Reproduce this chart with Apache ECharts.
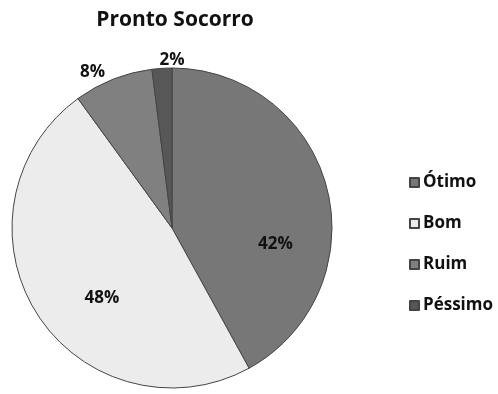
<!DOCTYPE html>
<html>
<head>
<meta charset="utf-8">
<script src="https://cdn.jsdelivr.net/npm/echarts@6/dist/echarts.min.js"></script>
<style>
  html, body { margin: 0; padding: 0; background: #fff; }
  #main { width: 498px; height: 394px; }
</style>
</head>
<body>
<div id="main"></div>
<script>
// dados do gráfico
var categorias = ['Ótimo', 'Bom', 'Ruim', 'Péssimo'];
var valores = [42, 48, 8, 2];
var cores = ['#777777', '#ececec', '#808080', '#575757'];

var myChart = echarts.init(document.getElementById('main'));

var dados = categorias.map(function(nome, i) {
    var item = { name: nome, value: valores[i], itemStyle: { color: cores[i] } };
    // fatias pequenas: rótulo fora
    if (valores[i] < 10) {
        item.label = { position: 'outside' };
    }
    return item;
});

// ajuste fino dos rótulos (como no Excel)
var deslocamentos = [[23, 37], [0, 26], [0, 0], [28, 0]];

var option = {
    title: {
        text: 'Pronto Socorro',
        left: 170,
        top: 5,
        textAlign: 'center',
        textStyle: {
            fontFamily: 'Open Sans',
            fontSize: 21,
            fontWeight: 'bold',
            color: '#111'
        }
    },
    legend: {
        orient: 'vertical',
        left: 404,
        top: 169,
        itemGap: 24,
        itemWidth: 9,
        itemHeight: 9,
        icon: 'rect',
        data: categorias,
        textStyle: {
            fontFamily: 'Open Sans',
            fontSize: 17,
            fontWeight: 'bold',
            color: '#111',
            padding: [0, 0, 0, -1]
        }
    },
    series: [
        {
            type: 'pie',
            center: [172, 228],
            radius: 160,
            startAngle: 90,
            clockwise: true,
            avoidLabelOverlap: false,
            label: {
                show: true,
                position: 'inside',
                formatter: '{c}%',
                fontFamily: 'Open Sans',
                fontSize: 17,
                fontWeight: 'bold',
                color: '#111'
            },
            labelLine: { show: false, length: 8, length2: 0 },
            labelLayout: function(params) {
                var d = deslocamentos[params.dataIndex];
                return { dx: d[0], dy: d[1] };
            },
            itemStyle: {
                borderColor: '#444',
                borderWidth: 1
            },
            emphasis: { scale: false },
            data: dados
        }
    ]
};

myChart.setOption(option);
</script>
</body>
</html>
